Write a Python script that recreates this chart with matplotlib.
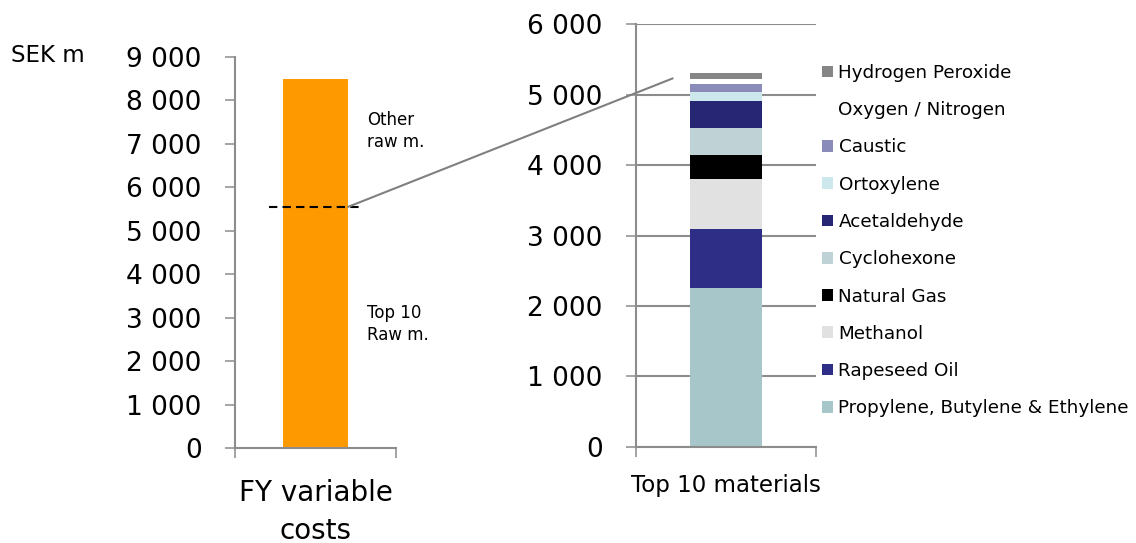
import matplotlib
matplotlib.use("Agg")
import matplotlib.pyplot as plt
from matplotlib.patches import ConnectionPatch, Patch
from matplotlib.ticker import FuncFormatter, MultipleLocator

# Total variable costs (SEK m) and the share covered by the top-10 raw materials
total_label = "FY variable\ncosts"
total_cost = 8500
top10_level = 5550

# Top-10 raw materials, stacked bottom to top (SEK m)
materials = [
    "Propylene, Butylene & Ethylene",
    "Rapeseed Oil",
    "Methanol",
    "Natural Gas",
    "Cyclohexone",
    "Acetaldehyde",
    "Ortoxylene",
    "Caustic",
    "Oxygen / Nitrogen",
    "Hydrogen Peroxide",
]
material_costs = [2260, 830, 710, 340, 385, 385, 128, 114, 71, 89]
material_colors = [
    "#A6C6C9", "#2E2E86", "#E1E1E1", "#000000", "#BFD3D6",
    "#262675", "#CCE8EC", "#8B8BB9", "#FFFFFF", "#868686",
]
stack_label = "Top 10 materials"

AXIS_GREY = "#8C8C8C"
W, H = 1136, 543

plt.rcParams["font.family"] = ["DejaVu Sans"]
fig = plt.figure(figsize=(W / 100, H / 100), dpi=100)


def space_thousands(v, _pos):
    return f"{int(round(v)):,}".replace(",", " ")


def style_axis(ax):
    for side in ("top", "right"):
        ax.spines[side].set_visible(False)
    for side in ("left", "bottom"):
        ax.spines[side].set_color(AXIS_GREY)
        ax.spines[side].set_linewidth(1.5)
    ax.tick_params(axis="y", direction="out", length=7.5, width=1.1,
                   color=AXIS_GREY, labelsize=19, pad=16.5)
    ax.tick_params(axis="x", direction="out", length=7.5, width=1.1,
                   color=AXIS_GREY, labelbottom=False)
    ax.yaxis.set_major_formatter(FuncFormatter(space_thousands))
    ax.set_xlim(-0.5, 0.5)
    ax.set_xticks([-0.5, 0.5])


# Left panel: total variable costs
ax1 = fig.add_axes([235 / W, (H - 448) / H, 161 / W, 391 / H])
style_axis(ax1)
ax1.set_ylim(0, 9000)
ax1.yaxis.set_major_locator(MultipleLocator(1000))
ax1.bar([0], [total_cost], width=0.40, color="#FF9900", zorder=2)
ax1.plot([-0.29, 0.283], [top10_level, top10_level], color="black",
         lw=1.5, dashes=(4, 2.5), zorder=3)
ax1.text(0.82, 7300, "Other\nraw m.", transform=ax1.get_yaxis_transform(),
         fontsize=12, va="center", ha="left", linespacing=1.3)
ax1.text(0.82, 2850, "Top 10\nRaw m.", transform=ax1.get_yaxis_transform(),
         fontsize=12, va="center", ha="left", linespacing=1.3)
ax1.text(0.5, -0.163, total_label, transform=ax1.transAxes, fontsize=20,
         ha="center", va="center", linespacing=1.45)

# Right panel: breakdown of the top-10 materials
ax2 = fig.add_axes([636 / W, (H - 446.7) / H, 180 / W, 422.3 / H])
style_axis(ax2)
ax2.set_ylim(0, 6000)
ax2.yaxis.set_major_locator(MultipleLocator(1000))
ax2.yaxis.grid(True, color=AXIS_GREY, lw=1.5)
ax2.set_axisbelow(True)
bottom = 0
handles = []
for name, val, col in zip(materials, material_costs, material_colors):
    ax2.bar([0], [val], bottom=bottom, width=0.405, color=col, zorder=2)
    handles.append(Patch(facecolor=col, edgecolor="none", label=name))
    bottom += val
ax2.text(0.5, -0.093, stack_label, transform=ax2.transAxes, fontsize=16.5,
         ha="center", va="center")

# Connector from the top-10 level to the stacked column
con = ConnectionPatch(xyA=(0.202, top10_level), coordsA=ax1.transData,
                      xyB=(-0.296, 5233), coordsB=ax2.transData,
                      color="#808080", lw=1.5, zorder=5)
fig.add_artist(con)

fig.text(11 / W, (H - 55) / H, "SEK m", fontsize=16.5, ha="left", va="center")

fig.legend(handles=handles[::-1], loc="upper left",
           bbox_to_anchor=(822 / W, (H - 64) / H), frameon=False,
           fontsize=13.2, handlelength=0.6, handleheight=0.6,
           handletextpad=0.3, labelspacing=1.05, borderpad=0,
           borderaxespad=0)

fig.savefig("out.png", dpi=100)
